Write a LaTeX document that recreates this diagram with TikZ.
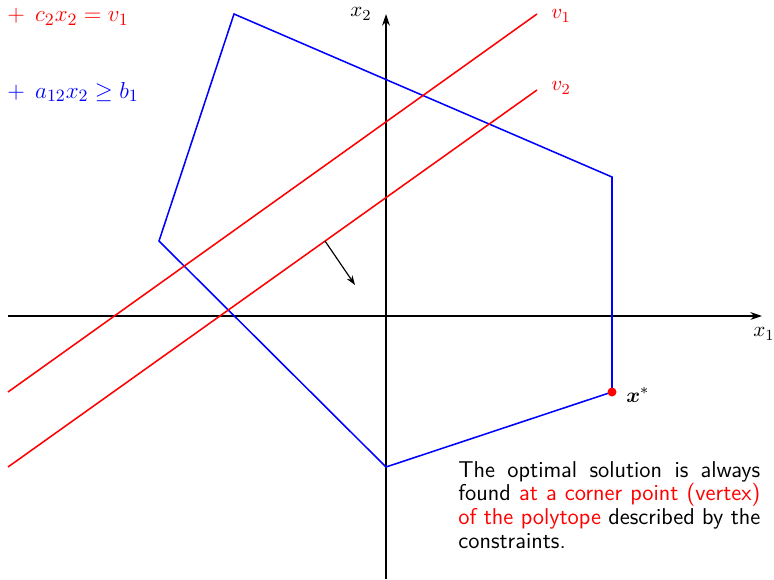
\documentclass[tikz,border=0pt]{standalone}
\usepackage{bm}
\usetikzlibrary{arrows.meta}
\begin{document}
\begin{tikzpicture}[x=0.52pt,y=-0.52pt,
  axis/.style={thick,black,-{Stealth[length=6pt,width=4pt]}},
  poly/.style={thick,blue},
  level/.style={thick,red},
  lab/.style={font=\fontsize{11}{13}\selectfont},
  redlab/.style={lab,red,inner sep=1pt},
  eqn/.style={font=\fontsize{12.5}{15}\selectfont,anchor=west,inner sep=0pt},
  note/.style={font=\fontsize{11.9}{12.3}\sffamily,text width=157pt,align=justify,inner sep=0pt,anchor=north west}]
\useasboundingbox (0,0) rectangle (774,579);
% axes
\coordinate (xs) at (8,316);
\coordinate (xe) at (762,316);
\coordinate (ys) at (386,579);
\coordinate (ye) at (386,14);
\draw[axis] (xs) -- (xe);
\draw[axis] (ys) -- (ye);
\node[lab] (x1) at (764,334) {$x_1$};
\node[lab] (x2) at (361,14) {$x_2$};
% polytope
\coordinate (p1) at (234,14);
\coordinate (p2) at (612,177);
\coordinate (p3) at (612,392);
\coordinate (p4) at (386,467);
\coordinate (p5) at (159,241);
\draw[poly] (p1) -- (p2) -- (p3) -- (p4) -- (p5) -- cycle;
% level lines
\coordinate (a1) at (8,392);
\coordinate (b1) at (537,14);
\coordinate (a2) at (8,467);
\coordinate (b2) at (537,90);
\draw[level] (a1) -- (b1);
\draw[level] (a2) -- (b2);
\node[redlab,anchor=west] (v1) at (549,16) {$v_1$};
\node[redlab,anchor=west] (v2) at (549,88) {$v_2$};
% direction arrow
\coordinate (d1) at (325,241);
\coordinate (d2) at (355,285);
\draw[line width=0.6pt,-{Stealth[length=5pt,width=3.5pt]}] (d1) -- (d2);
% optimum
\fill[red] (p3) circle (4.5);
\node[lab,anchor=west,inner sep=1pt] (xs1) at (624,395) {$\bm{x}^*$};
% equations at top left
\node[eqn,red] (eq1) at (7,17) {${+}\;\,c_2x_2 = v_1$};
\node[eqn,blue] (eq2) at (7,92) {${+}\;\,a_{12}x_2 \geq b_1$};
% note
\node[note] (txt) at (458,461) {\lefthyphenmin=64\relax The optimal solution is always\linebreak found \textcolor{red}{at a corner point (vertex)\linebreak of the polytope} described by the\linebreak constraints.};
\end{tikzpicture}
\end{document}
